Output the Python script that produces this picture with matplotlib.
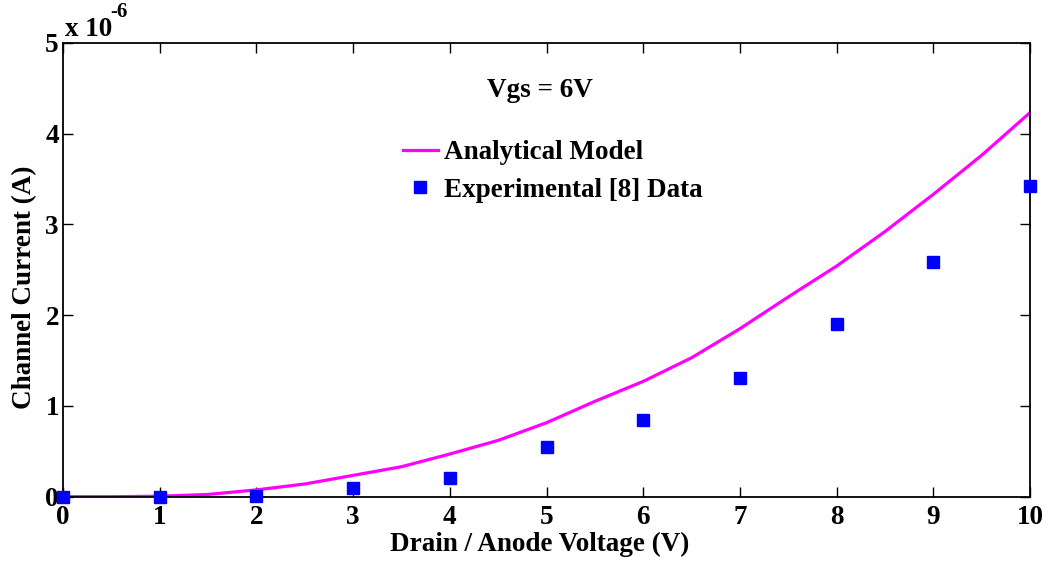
import numpy as np
import matplotlib
matplotlib.use("Agg")
from matplotlib import pyplot as plt
from matplotlib.ticker import FuncFormatter

# Analytical model curve (A)
vd_model = [0, 0.5, 1, 1.5, 2, 2.5, 3, 3.5, 4, 4.5, 5, 5.5, 6, 6.5, 7, 7.5, 8, 8.5, 9, 9.5, 10]
id_model = [0, 0, 0.005e-6, 0.025e-6, 0.075e-6, 0.14e-6, 0.235e-6, 0.33e-6, 0.47e-6, 0.62e-6,
            0.815e-6, 1.05e-6, 1.27e-6, 1.53e-6, 1.85e-6, 2.20e-6, 2.54e-6, 2.92e-6, 3.33e-6,
            3.76e-6, 4.23e-6]

# Experimental data (A)
vd_exp = [0, 1, 2, 3, 4, 5, 6, 7, 8, 9, 10]
id_exp = [0, 0, 0.01e-6, 0.093e-6, 0.21e-6, 0.547e-6, 0.848e-6, 1.31e-6, 1.90e-6, 2.58e-6, 3.42e-6]

xticks = [0, 1, 2, 3, 4, 5, 6, 7, 8, 9, 10]
yticks = [0, 1e-6, 2e-6, 3e-6, 4e-6, 5e-6]

plt.rcParams['font.family'] = ['Liberation Serif', 'DejaVu Serif']
plt.rcParams['font.weight'] = 'bold'
fs = 19.5

fig = plt.figure(figsize=(10.49, 5.62), dpi=100)
ax = fig.add_axes([0.0601, 0.1162, 0.9218, 0.8078])

ax.plot(vd_model, id_model, color='#ff00ff', lw=2.3, label='Analytical Model')
ax.plot(vd_exp, id_exp, ls='none', marker='s', ms=8, color='#0000ff',
        label='Experimental [8] Data', clip_on=False, zorder=5)

ax.set_xlim(0, 10)
ax.set_ylim(0, 5e-6)
ax.set_xticks(xticks)
ax.set_yticks(yticks)
ax.yaxis.set_major_formatter(FuncFormatter(lambda v, p: '%g' % round(v / 1e-6, 6)))
ax.tick_params(direction='in', length=7, width=1, top=True, right=True,
               labelsize=fs)
ax.tick_params(axis='x', pad=6)
ax.tick_params(axis='y', pad=3)
for lab in ax.get_xticklabels() + ax.get_yticklabels():
    lab.set_fontweight('bold')
for s in ax.spines.values():
    s.set_linewidth(1.3)

ax.set_xlabel('Drain / Anode Voltage (V)', fontsize=fs, fontweight='bold')
ax.set_ylabel('Channel Current (A)', fontsize=fs, fontweight='bold')
ax.xaxis.set_label_coords(0.493, -0.078)
ax.yaxis.set_label_coords(-0.027, 0.462)

# exponent label
ax.text(0.002, 1.002, 'x 10', transform=ax.transAxes, fontsize=fs, fontweight='bold',
        ha='left', va='bottom')
ax.text(0.049, 1.045, '-6', transform=ax.transAxes, fontsize=15, fontweight='bold',
        ha='left', va='bottom')

ax.text(0.493, 0.895, 'Vgs = 6V', transform=ax.transAxes, fontsize=fs,
        fontweight='bold', ha='center', va='center')

leg = ax.legend(loc='upper left', bbox_to_anchor=(0.352, 0.785), frameon=False,
                fontsize=fs, handlelength=1.26, handletextpad=0.25, labelspacing=0.45,
                borderaxespad=0, borderpad=0)
for t in leg.get_texts():
    t.set_fontweight('bold')

fig.savefig('out.png', dpi=100)
